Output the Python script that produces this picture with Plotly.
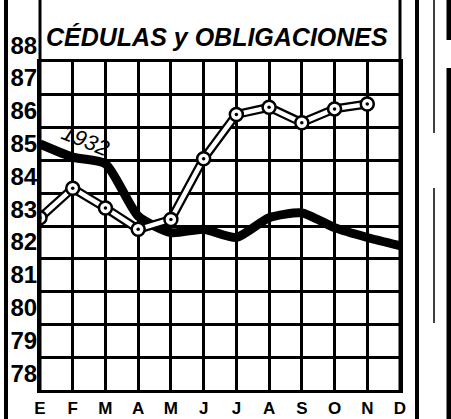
import plotly.graph_objects as go

months = ["E", "F", "M", "A", "M", "J", "J", "A", "S", "O", "N", "D"]
serie_1932 = [85.5, 85.1, 84.9, 83.3, 82.8, 82.9, 82.65, 83.25, 83.4, 82.95, 82.65, 82.4]
serie_1933 = [83.25, 84.15, 83.55, 82.9, 83.2, 85.05, 86.4, 86.62, 86.15, 86.57, 86.72]
y_ticks = list(range(78, 89))

xs = list(range(len(months)))
xs33 = xs[:len(serie_1933)]

SANS = "Liberation Sans, Arial, DejaVu Sans, sans-serif"

fig = go.Figure()

fig.add_trace(go.Scatter(x=xs, y=serie_1932, mode="lines", name="1932",
                         line=dict(color="black", width=9, shape="spline", smoothing=0.6),
                         hoverinfo="skip"))
fig.add_trace(go.Scatter(x=xs33, y=serie_1933, mode="lines", name="1933 borde",
                         line=dict(color="black", width=9), hoverinfo="skip"))
fig.add_trace(go.Scatter(x=xs33, y=serie_1933, mode="lines", name="1933",
                         line=dict(color="white", width=4.5), hoverinfo="skip"))
fig.add_trace(go.Scatter(x=xs33, y=serie_1933, mode="markers", name="1933 puntos",
                         marker=dict(symbol="circle", size=13, color="white",
                                     line=dict(color="black", width=2.5)), hoverinfo="skip"))
fig.add_trace(go.Scatter(x=xs33, y=serie_1933, mode="markers", name="1933 centro",
                         marker=dict(symbol="circle", size=3.5, color="black"), hoverinfo="skip"))

fig.add_annotation(x=1.4, y=85.6, xref="x", yref="y", text="1932", showarrow=False,
                   textangle=22,
                   font=dict(family=SANS, size=22, style="italic", color="black"))

fig.add_annotation(x=0.493, y=1.125, xref="paper", yref="paper",
                   text="CÉDULAS y OBLIGACIONES", showarrow=False,
                   font=dict(family=SANS, size=25, weight="bold", style="italic", color="black"))

def px_x(px):
    return (px - 40) / 360.0

def px_y(py):
    return (390 - py) / 328.0

def vline(px, py0, py1, w):
    fig.add_shape(type="line", xref="paper", yref="paper", x0=px_x(px), x1=px_x(px),
                  y0=px_y(py0), y1=px_y(py1),
                  line=dict(color="black", width=w), layer="above")

# title box sides / grid borders
vline(40, 390, -2, 3)
vline(400, 390, -2, 3)
# outer frame pieces
vline(6, 421, -2, 4)
vline(417, 421, -2, 4)
vline(434, 133, -2, 1.5)
vline(434, 323, 188, 1.5)
vline(449, 421, 68, 5)
vline(449, 40, -2, 5)

fig.update_layout(
    width=451, height=419,
    margin=dict(l=40, r=51, t=62, b=29, autoexpand=False),
    paper_bgcolor="white", plot_bgcolor="white",
    showlegend=False,
    xaxis=dict(range=[0, 11], tickmode="array", tickvals=xs, ticktext=months,
               showgrid=True, gridcolor="black", gridwidth=3, zeroline=False,
               showline=True, linecolor="black", linewidth=3, mirror=True,
               ticks="", ticklabelstandoff=1, automargin=False,
               tickfont=dict(family=SANS, size=17, weight="bold", color="black"),
               fixedrange=True),
    yaxis=dict(range=[78, 88], tickmode="array", tickvals=y_ticks,
               ticktext=[str(v) for v in y_ticks],
               showgrid=True, gridcolor="black", gridwidth=2.5, zeroline=False,
               showline=True, linecolor="black", linewidth=3, mirror=True,
               ticks="", ticklabelposition="outside top", ticklabelstandoff=-5,
               automargin=False,
               tickfont=dict(family=SANS, size=24, weight="bold", color="black"),
               fixedrange=True),
)

fig.write_html("out.html", config={"displayModeBar": False},
               post_script="document.body.style.margin='0';document.body.style.padding='0';")
